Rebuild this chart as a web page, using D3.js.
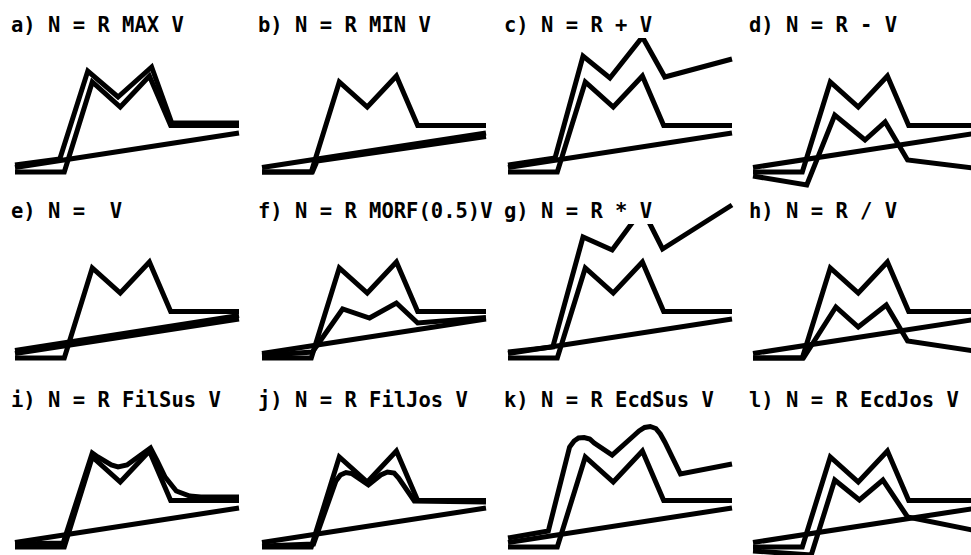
<!DOCTYPE html>
<html>
<head>
<meta charset="utf-8">
<script src="https://cdn.jsdelivr.net/npm/d3@7/dist/d3.min.js"></script>
<style>
  html, body { margin: 0; padding: 0; background: #fff; }
  svg { display: block; }
</style>
</head>
<body>
<script>
// Panel titles (operator applied to R and V)
const titles = [
  "a) N = R MAX V", "b) N = R MIN V", "c) N = R + V", "d) N = R - V",
  "e) N =  V", "f) N = R MORF(0.5)V", "g) N = R * V", "h) N = R / V",
  "i) N = R FilSus V", "j) N = R FilJos V", "k) N = R EcdSus V", "l) N = R EcdJos V"
];

// Reference profile R (same in every panel)
const rX = [0, 2.2, 3.45, 4.7, 6.0, 6.95, 10];
const rY = [0, 0, 9.0, 6.5, 9.6, 4.65, 4.65];

// Straight ramp V (same in every panel)
const vX = [0, 10];
const vY = [0.45, 3.9];

// Result N for each panel, as [x, value] pairs
const nA = [[0,0.7],[2.0,1.3],[3.25,10.1],[4.6,7.5],[6.1,10.5],[7.0,4.9],[10,4.9]];
const nB = [[0,0],[2.25,0],[2.46,1.1],[10,3.55]];
const nC = [[0,0.7],[2.1,1.4],[3.35,11.6],[4.55,9.4],[6.0,13.5],[7.0,9.5],[10,11.3]];
const nD = [[0,-0.4],[2.4,-1.3],[3.65,5.7],[5.0,3.2],[5.9,5.0],[6.9,1.2],[10,0.35]];
const nE = [[0,0.75],[10,4.25]];
const nF = [[0,0.25],[2.25,0.6],[3.6,4.9],[4.8,4.0],[6.0,5.5],[6.95,3.5],[10,4.05]];
const nG = [[0,0.6],[2.0,1.1],[3.35,12.1],[4.65,10.8],[6.0,14.9],[6.9,10.9],[10,15.3]];
const nH = [[0,0],[2.25,0],[3.7,5.1],[4.7,3.1],[5.95,5.3],[6.9,1.7],[10,0.65]];
const nI = [[0,0.3],[2.15,0.4],[3.45,9.4],[3.7,9.0],[4.3,8.2],[4.6,8.0],[5.0,8.2],[6.05,9.9],[6.35,8.6],[6.7,7.0],[7.2,5.6],[7.8,5.1],[8.3,5.0],[10,5.0]];
const nJ = [[0,0.1],[2.3,0.3],[3.3,6.6],[3.5,7.2],[3.75,7.45],[4.0,7.35],[4.75,6.2],[5.3,7.2],[5.6,7.5],[5.9,7.4],[6.1,6.9],[6.8,4.6],[10,4.5]];
const nK = [[0,0.9],[1.8,1.6],[2.75,10.0],[2.95,10.6],[3.15,10.9],[3.4,10.95],[3.65,10.8],[3.85,10.4],[4.65,9.2],[5.6,11.1],[5.85,11.6],[6.1,11.95],[6.35,12.05],[6.6,11.85],[6.8,11.3],[7.0,10.5],[7.7,7.3],[10,8.3]];
const nL = [[0,-0.4],[2.6,-0.8],[3.65,6.7],[4.75,4.7],[5.8,6.7],[6.9,3.0],[10,1.6]];

const nSeries = [nA, nB, nC, nD, nE, nF, nG, nH, nI, nJ, nK, nL];

// Layout
const W = 971, H = 555;
const colX = [15, 262, 508, 753];
const rowBase = [172, 358, 547];
const plotW = 224;
const unitH = 10;      // pixels per value unit
const titleDy = -140;  // title baseline above the panel baseline
const strokeW = 5;

const svg = d3.select("body").append("svg")
  .attr("width", W).attr("height", H);

const x = d3.scaleLinear().domain([0, 10]).range([0, plotW]);
const y = d3.scaleLinear().domain([0, 10]).range([0, -10 * unitH]);

const rPts = rX.map((v, k) => [v, rY[k]]);
const vPts = vX.map((v, k) => [v, vY[k]]);
const line = d3.line().x(d => x(d[0])).y(d => y(d[1]));

titles.forEach((title, i) => {
  const col = i % 4, row = Math.floor(i / 4);
  const g = svg.append("g")
    .attr("transform", `translate(${colX[col]},${rowBase[row]})`);

  const draw = pts => g.append("path")
    .attr("d", line(pts))
    .attr("fill", "none")
    .attr("stroke", "#000")
    .attr("stroke-width", strokeW)
    .attr("stroke-linejoin", "miter")
    .attr("stroke-linecap", "butt");

  draw(vPts);
  draw(rPts);
  draw(nSeries[i]);

  // title on a white plate so lines pass behind it
  const tg = g.append("g");
  const txt = tg.append("text")
    .attr("x", -4).attr("y", titleDy)
    .style("white-space", "pre")
    .attr("font-family", "'DejaVu Sans Mono', 'Liberation Mono', monospace")
    .attr("font-weight", "bold")
    .attr("font-size", 20.5)
    .attr("fill", "#000")
    .text(title);
  const bb = txt.node().getBBox();
  tg.insert("rect", "text")
    .attr("x", bb.x - 2).attr("y", bb.y - 1)
    .attr("width", bb.width + 4).attr("height", bb.height + 2)
    .attr("fill", "#fff");
});
</script>
</body>
</html>
